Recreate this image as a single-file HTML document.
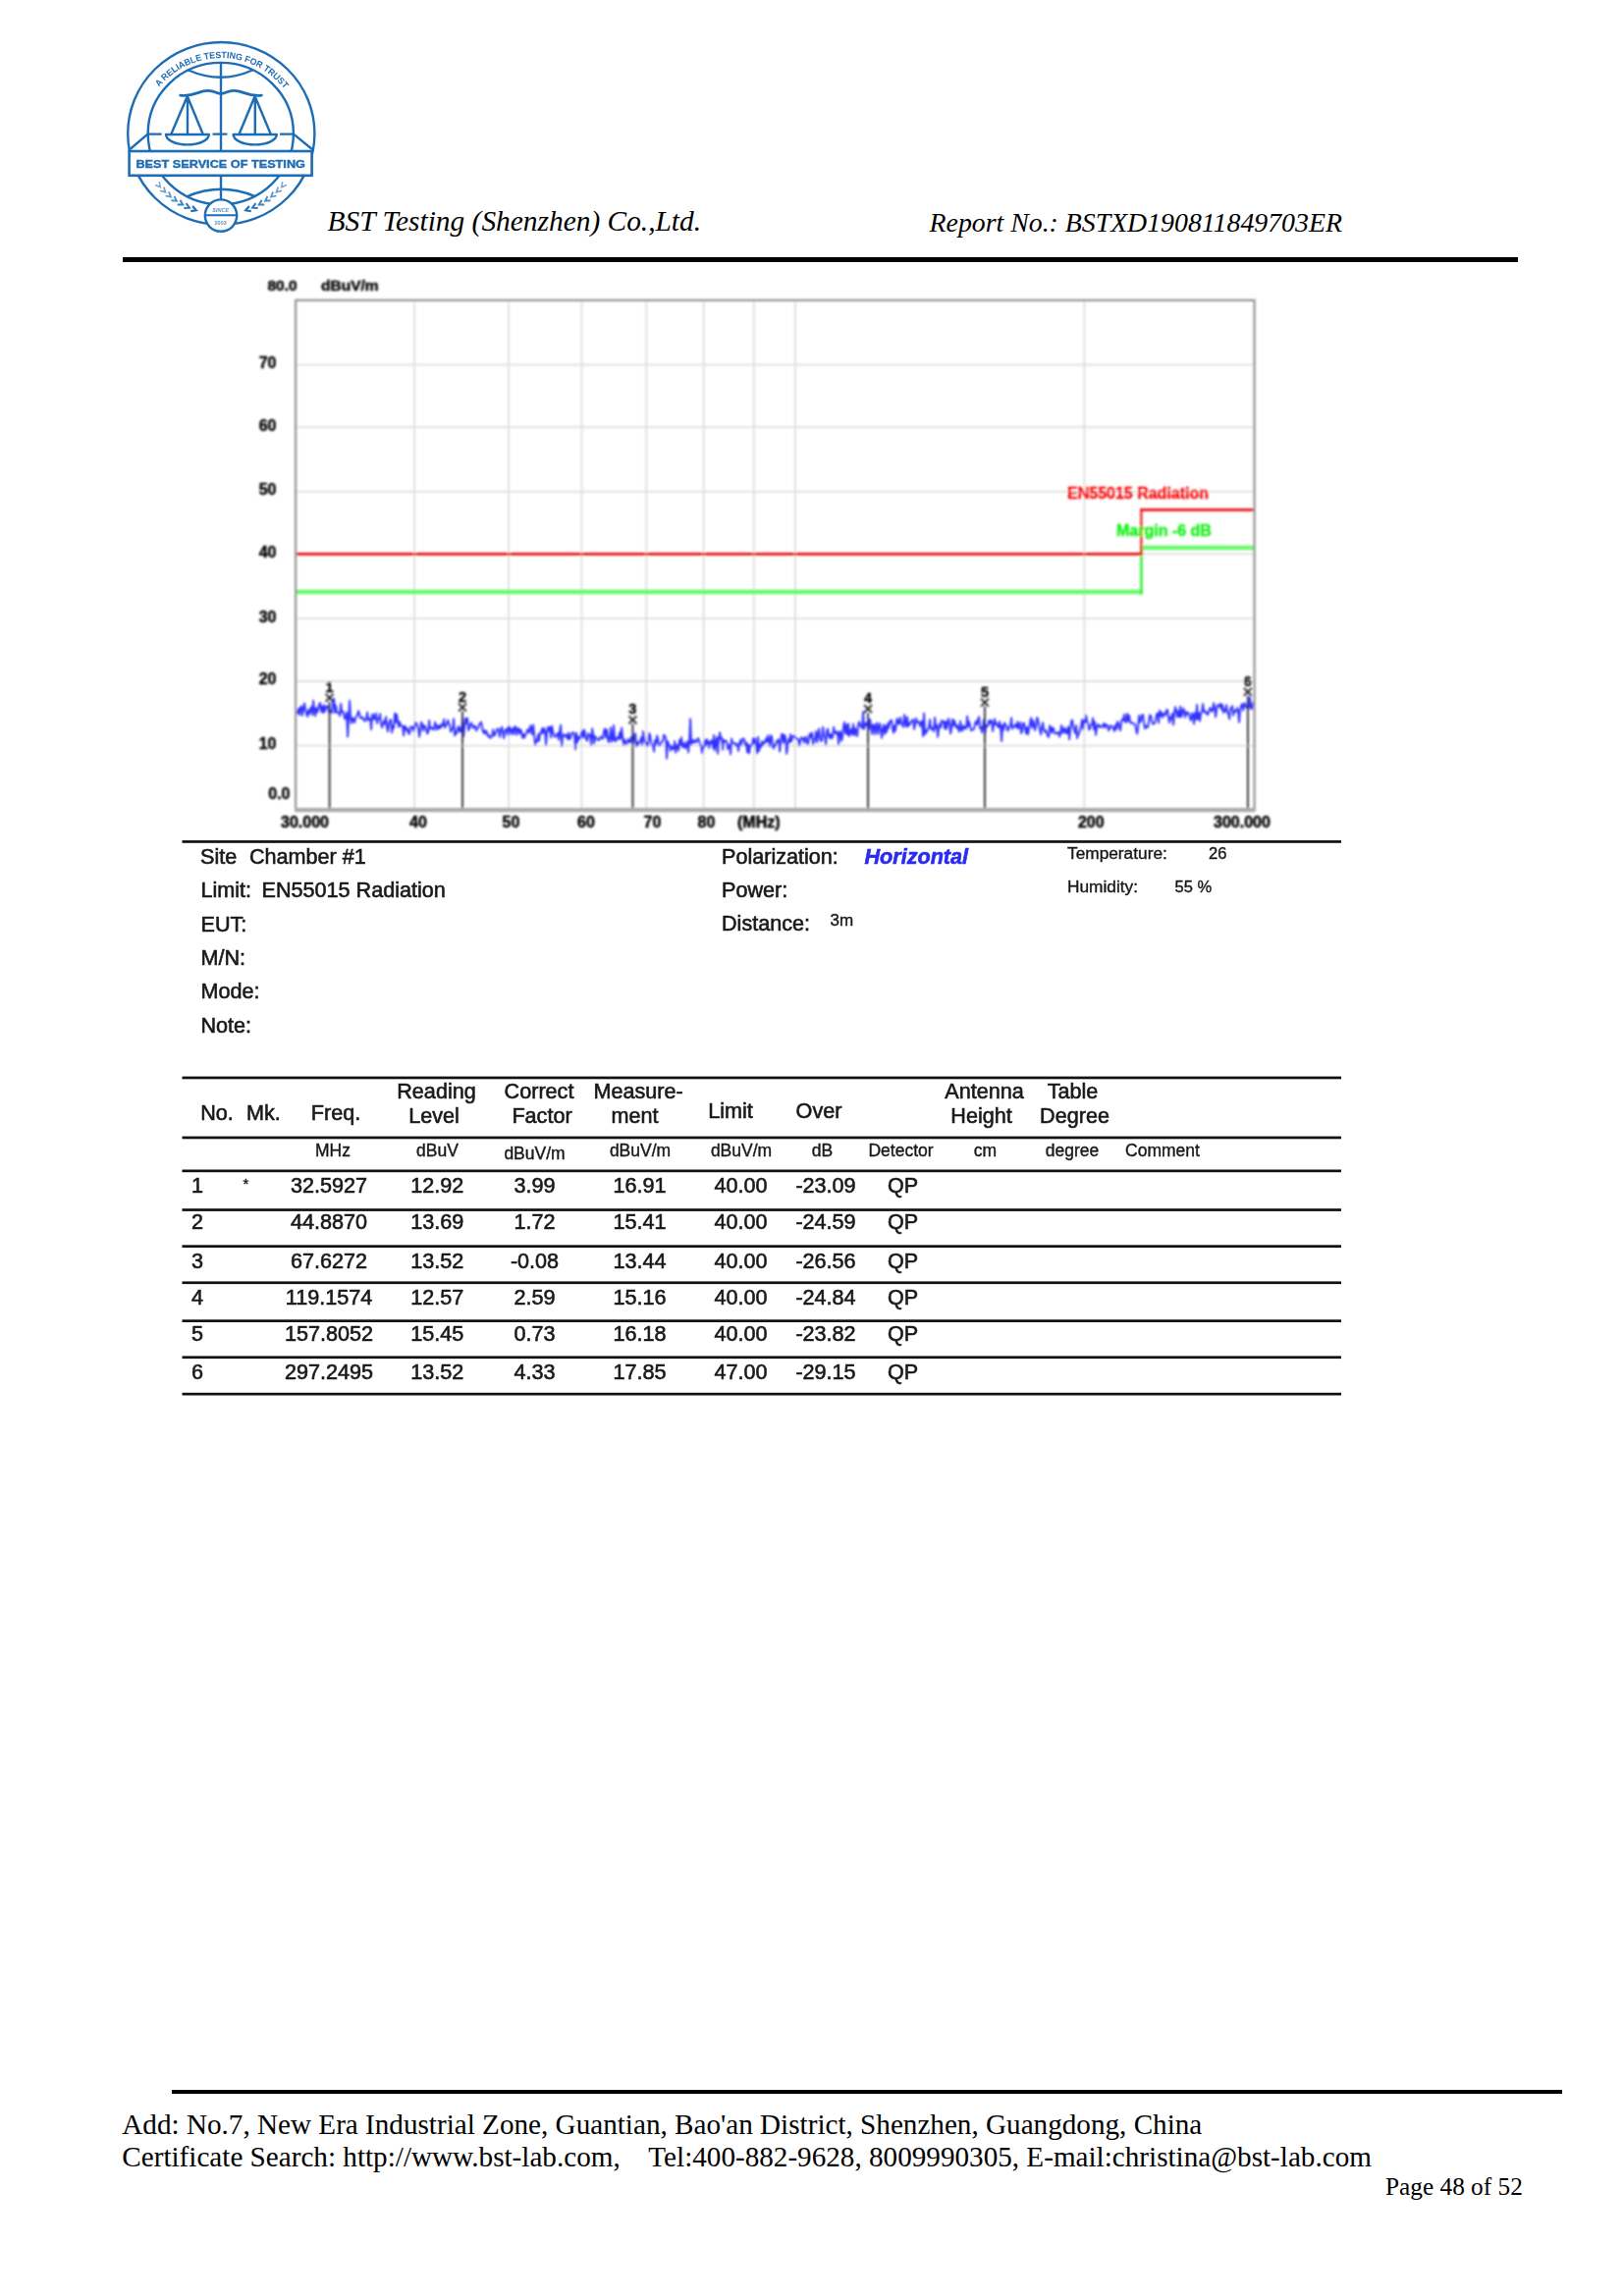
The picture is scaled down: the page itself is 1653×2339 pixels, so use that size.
<!DOCTYPE html>
<html><head><meta charset="utf-8"><title>Report page 48</title>
<style>
html,body{margin:0;padding:0;background:#fff;}
body{width:1653px;height:2339px;position:relative;overflow:hidden;font-family:"Liberation Sans",sans-serif;}
svg{position:absolute;left:0;top:0;}
svg text{font-family:"Liberation Sans",sans-serif;}
.serif{position:absolute;white-space:pre;font-family:"Liberation Serif",serif;color:#000;line-height:1;}
.hdr{font-style:italic;font-size:29.17px;}
.ftr{font-size:29.17px;}
.rule{position:absolute;background:#000;}
</style></head><body>
<svg width="1653" height="2339" viewBox="0 0 1653 2339">
<defs><filter id="b1" x="-2%" y="-2%" width="104%" height="104%"><feGaussianBlur stdDeviation="0.9"/></filter><filter id="b2" x="-2%" y="-2%" width="104%" height="104%"><feGaussianBlur stdDeviation="0.7"/></filter></defs>
<g id="logo" filter="url(#b2)">
<g fill="none" stroke="#1f6db5" stroke-width="2.4" stroke-linecap="round">
<ellipse cx="225.3" cy="136" rx="95.1" ry="93"/>
<ellipse cx="224.8" cy="136.1" rx="74.1" ry="72.2"/>
<path d="M225,64 V154 M225,179 V204"/>
<path d="M191.8,71.5 Q225,86 257,71.5"/>
<path d="M191.3,199.8 Q225,185.6 259.3,199.8"/>
<path d="M151,136.6 H164.6 M216.6,136.6 H231.4 M285,136.6 H298.5" stroke-linecap="butt"/>
<path d="M133,151.5 L150.5,136.6 M317.3,151.5 L299,136.6"/>
<path d="M183.7,97.1 C197,99 203,92 212,92.4 C219,92.6 221,95.5 225,95.3 C229,95.5 231,92.6 238,92.4 C247,92 253,99 266.4,97.1" stroke-width="2.8"/>
<path d="M190.8,98 L174.2,137 M190.8,98 L206.8,137 M191,100 V137"/>
<path d="M259.6,98 L243.4,137 M259.6,98 L275.9,137 M259.8,100 V137"/>
<path d="M169,137 H212.8 A21.9,10.4 0 0 1 169,137 Z" stroke-linejoin="round"/>
<path d="M237.6,137 H281.8 A22.1,10.4 0 0 1 237.6,137 Z" stroke-linejoin="round"/>
</g>
<rect x="131.6" y="154" width="186" height="24.8" fill="#fff" stroke="#1f6db5" stroke-width="2.6"/>
<text x="224.7" y="171" text-anchor="middle" font-size="10.5" font-weight="bold" fill="#1f6db5" stroke="#1f6db5" stroke-width="0.35" textLength="172.5" lengthAdjust="spacingAndGlyphs">BEST SERVICE OF TESTING</text>
<circle cx="225" cy="219.6" r="16.2" fill="#fff" stroke="#1f6db5" stroke-width="2.4"/>
<path d="M208.5,219.2 H241" stroke="#1f6db5" stroke-width="2"/>
<text x="224.7" y="216" text-anchor="middle" font-size="5.5" font-style="italic" font-weight="bold" fill="#1f6db5" opacity=".75">SINCE</text>
<text x="224.7" y="228.5" text-anchor="middle" font-size="5.5" font-weight="bold" fill="#1f6db5" opacity=".75">2003</text>
<path id="arcp" d="M162.04,88.70 A81.6,81.6 0 0 1 289.74,90.93" fill="none"/>
<text font-size="9.2" font-weight="bold" fill="#1f6db5"><textPath href="#arcp" textLength="146" lengthAdjust="spacingAndGlyphs">A RELIABLE TESTING FOR TRUST</textPath></text>
<path d="M255.7,215.1 L250.2,214.2 L253.9,210.0" fill="none" stroke="#1f6db5" stroke-width="2.10" stroke-linejoin="miter" opacity="1.00"/>
<path d="M262.7,212.1 L257.1,211.7 L260.4,207.2" fill="none" stroke="#1f6db5" stroke-width="2.02" stroke-linejoin="miter" opacity="0.93"/>
<path d="M269.3,208.5 L263.8,208.5 L266.6,203.8" fill="none" stroke="#1f6db5" stroke-width="1.94" stroke-linejoin="miter" opacity="0.86"/>
<path d="M275.6,204.3 L270.1,204.8 L272.5,199.8" fill="none" stroke="#1f6db5" stroke-width="1.86" stroke-linejoin="miter" opacity="0.79"/>
<path d="M281.5,199.5 L276.1,200.6 L278.1,195.4" fill="none" stroke="#1f6db5" stroke-width="1.78" stroke-linejoin="miter" opacity="0.72"/>
<path d="M287.0,194.3 L281.6,195.8 L283.1,190.5" fill="none" stroke="#1f6db5" stroke-width="1.70" stroke-linejoin="miter" opacity="0.65"/>
<path d="M291.9,188.6 L286.7,190.6 L287.8,185.1" fill="none" stroke="#1f6db5" stroke-width="1.62" stroke-linejoin="miter" opacity="0.58"/>
<path d="M194.3,215.1 L199.8,214.2 L196.1,210.0" fill="none" stroke="#1f6db5" stroke-width="2.10" stroke-linejoin="miter" opacity="1.00"/>
<path d="M187.3,212.1 L192.9,211.7 L189.6,207.2" fill="none" stroke="#1f6db5" stroke-width="2.02" stroke-linejoin="miter" opacity="0.93"/>
<path d="M180.7,208.5 L186.2,208.5 L183.4,203.8" fill="none" stroke="#1f6db5" stroke-width="1.94" stroke-linejoin="miter" opacity="0.86"/>
<path d="M174.4,204.3 L179.9,204.8 L177.5,199.8" fill="none" stroke="#1f6db5" stroke-width="1.86" stroke-linejoin="miter" opacity="0.79"/>
<path d="M168.5,199.5 L173.9,200.6 L171.9,195.4" fill="none" stroke="#1f6db5" stroke-width="1.78" stroke-linejoin="miter" opacity="0.72"/>
<path d="M163.0,194.3 L168.4,195.8 L166.9,190.5" fill="none" stroke="#1f6db5" stroke-width="1.70" stroke-linejoin="miter" opacity="0.65"/>
<path d="M158.1,188.6 L163.3,190.6 L162.2,185.1" fill="none" stroke="#1f6db5" stroke-width="1.62" stroke-linejoin="miter" opacity="0.58"/></g>
<g id="chart" filter="url(#b1)"><line x1="422.2" y1="305.9" x2="422.2" y2="824.5" stroke="#dedede" stroke-width="1.8"/>
<line x1="518.2" y1="305.9" x2="518.2" y2="824.5" stroke="#dedede" stroke-width="1.8"/>
<line x1="592.5" y1="305.9" x2="592.5" y2="824.5" stroke="#dedede" stroke-width="1.8"/>
<line x1="658.3" y1="305.9" x2="658.3" y2="824.5" stroke="#dedede" stroke-width="1.8"/>
<line x1="716.6" y1="305.9" x2="716.6" y2="824.5" stroke="#dedede" stroke-width="1.8"/>
<line x1="767.8" y1="305.9" x2="767.8" y2="824.5" stroke="#dedede" stroke-width="1.8"/>
<line x1="809.9" y1="305.9" x2="809.9" y2="824.5" stroke="#dedede" stroke-width="1.8"/>
<line x1="1104.4" y1="305.9" x2="1104.4" y2="824.5" stroke="#dedede" stroke-width="1.8"/>
<line x1="301.1" y1="371.6" x2="1277.6" y2="371.6" stroke="#dedede" stroke-width="1.8"/>
<line x1="301.1" y1="435.2" x2="1277.6" y2="435.2" stroke="#dedede" stroke-width="1.8"/>
<line x1="301.1" y1="500.9" x2="1277.6" y2="500.9" stroke="#dedede" stroke-width="1.8"/>
<line x1="301.1" y1="564.4" x2="1277.6" y2="564.4" stroke="#dedede" stroke-width="1.8"/>
<line x1="301.1" y1="630.1" x2="1277.6" y2="630.1" stroke="#dedede" stroke-width="1.8"/>
<line x1="301.1" y1="694.0" x2="1277.6" y2="694.0" stroke="#dedede" stroke-width="1.8"/>
<line x1="301.1" y1="759.7" x2="1277.6" y2="759.7" stroke="#dedede" stroke-width="1.8"/>
<path d="M301.1,603.0 H1163.6 M1163.6,558.0 H1277.6" fill="none" stroke="#66fa66" stroke-width="4.6"/>
<path d="M1162.4,605.5 V555.5" fill="none" stroke="#22f022" stroke-width="2.4"/>
<path d="M301.1,564.4 H1163.4 M1161.4,519.4 H1277.6" fill="none" stroke="#f01010" stroke-width="2.8"/>
<path d="M1162.4,565.9 V517.9" fill="none" stroke="#f01414" stroke-width="2.2"/>
<polyline fill="none" stroke="#3030ff" stroke-width="1.9" stroke-linejoin="round" points="302.1,725.2 303.1,726.5 304.1,721.9 305.1,728.3 306.1,720.5 307.1,719.4 308.1,728.8 309.1,721.9 310.1,716.5 311.1,723.3 312.1,726.4 313.1,730.1 314.1,723.1 315.1,727.2 316.1,722.1 317.1,720.2 318.1,728.4 319.1,713.8 320.1,723.1 321.1,729.4 322.1,721.2 323.1,725.6 324.1,722.3 325.1,717.8 326.1,715.9 327.1,724.8 328.1,719.6 329.1,726.4 330.1,718.5 331.1,724.7 332.1,719.7 333.1,720.1 334.1,719.3 335.1,725.7 336.1,723.8 337.1,724.6 338.1,726.1 339.1,715.1 340.1,711.6 341.1,726.0 342.1,718.8 343.1,725.8 344.1,725.9 345.1,725.9 346.1,729.3 347.1,716.9 348.1,725.6 349.1,724.6 350.1,727.3 351.1,732.4 352.1,731.0 353.1,725.6 354.1,750.5 355.1,731.5 356.1,713.8 357.1,732.3 358.1,736.9 359.1,731.1 360.1,732.8 361.1,736.0 362.1,731.5 363.1,730.0 364.1,727.7 365.1,724.2 366.1,727.5 367.1,731.5 368.1,730.7 369.1,732.0 370.1,731.2 371.1,734.5 372.1,734.3 373.1,732.7 374.1,725.7 375.1,733.6 376.1,732.1 377.1,732.0 378.1,743.1 379.1,727.9 380.1,727.6 381.1,732.8 382.1,732.6 383.1,726.7 384.1,737.0 385.1,732.6 386.1,732.1 387.1,727.3 388.1,737.1 389.1,741.2 390.1,737.5 391.1,734.2 392.1,737.6 393.1,730.1 394.1,741.6 395.1,745.2 396.1,737.6 397.1,734.3 398.1,732.9 399.1,746.3 400.1,739.0 401.1,741.8 402.1,726.6 403.1,735.8 404.1,727.6 405.1,735.3 406.1,740.7 407.1,735.3 408.1,739.4 409.1,739.4 410.1,739.4 411.1,749.3 412.1,739.6 413.1,740.3 414.1,744.4 415.1,742.2 416.1,747.4 417.1,747.6 418.1,740.5 419.1,740.8 420.1,740.5 421.1,744.8 422.1,741.3 423.1,736.1 424.1,736.7 425.1,739.5 426.1,742.4 427.1,750.6 428.1,744.0 429.1,735.7 430.1,737.8 431.1,744.4 432.1,738.9 433.1,740.6 434.1,742.8 435.1,747.3 436.1,746.4 437.1,733.9 438.1,742.6 439.1,741.2 440.1,741.1 441.1,743.2 442.1,743.4 443.1,735.8 444.1,738.3 445.1,743.2 446.1,739.4 447.1,742.2 448.1,738.8 449.1,741.3 450.1,737.7 451.1,739.1 452.1,732.8 453.1,741.4 454.1,739.4 455.1,737.3 456.1,733.6 457.1,737.2 458.1,739.4 459.1,745.6 460.1,743.1 461.1,742.7 462.1,732.3 463.1,749.4 464.1,745.3 465.1,747.2 466.1,741.5 467.1,739.9 468.1,745.6 469.1,741.8 470.1,745.1 471.1,731.1 472.1,750.2 473.1,740.7 474.1,731.7 475.1,737.1 476.1,731.6 477.1,744.0 478.1,742.1 479.1,738.1 480.1,736.3 481.1,739.7 482.1,741.7 483.1,739.4 484.1,739.7 485.1,744.4 486.1,742.3 487.1,741.7 488.1,737.8 489.1,737.1 490.1,735.6 491.1,741.1 492.1,746.3 493.1,744.3 494.1,747.7 495.1,744.5 496.1,746.6 497.1,750.3 498.1,748.7 499.1,751.7 500.1,751.1 501.1,750.7 502.1,743.3 503.1,749.0 504.1,749.1 505.1,745.2 506.1,743.4 507.1,742.2 508.1,745.7 509.1,750.7 510.1,742.6 511.1,740.7 512.1,745.1 513.1,752.2 514.1,745.7 515.1,743.0 516.1,742.8 517.1,748.8 518.1,739.9 519.1,741.4 520.1,748.2 521.1,743.1 522.1,742.3 523.1,748.1 524.1,740.3 525.1,740.3 526.1,748.6 527.1,742.4 528.1,741.9 529.1,747.6 530.1,743.1 531.1,744.8 532.1,751.6 533.1,747.9 534.1,751.7 535.1,748.0 536.1,747.5 537.1,743.1 538.1,744.4 539.1,746.5 540.1,739.1 541.1,742.2 542.1,748.1 543.1,738.4 544.1,748.9 545.1,758.7 546.1,754.1 547.1,755.4 548.1,748.1 549.1,754.7 550.1,746.4 551.1,747.0 552.1,742.3 553.1,746.9 554.1,741.8 555.1,744.8 556.1,758.9 557.1,746.0 558.1,740.7 559.1,744.9 560.1,740.6 561.1,751.3 562.1,739.7 563.1,744.7 564.1,749.0 565.1,750.7 566.1,750.1 567.1,748.2 568.1,746.7 569.1,753.7 570.1,744.9 571.1,738.7 572.1,760.1 573.1,750.4 574.1,748.1 575.1,749.8 576.1,750.4 577.1,748.5 578.1,752.9 579.1,746.5 580.1,753.4 581.1,751.4 582.1,747.4 583.1,746.3 584.1,746.3 585.1,748.8 586.1,763.2 587.1,746.7 588.1,756.3 589.1,750.5 590.1,753.0 591.1,752.1 592.1,747.8 593.1,744.3 594.1,751.8 595.1,743.5 596.1,748.8 597.1,753.1 598.1,754.8 599.1,747.2 600.1,749.2 601.1,748.7 602.1,758.9 603.1,742.3 604.1,748.0 605.1,757.6 606.1,749.9 607.1,752.3 608.1,752.5 609.1,753.8 610.1,754.1 611.1,751.3 612.1,750.6 613.1,752.4 614.1,752.5 615.1,744.6 616.1,742.5 617.1,751.1 618.1,743.1 619.1,753.4 620.1,756.4 621.1,751.0 622.1,741.2 623.1,755.6 624.1,753.1 625.1,738.9 626.1,754.3 627.1,755.4 628.1,751.8 629.1,751.0 630.1,753.0 631.1,746.1 632.1,752.7 633.1,741.5 634.1,750.5 635.1,758.7 636.1,753.1 637.1,756.8 638.1,758.3 639.1,755.4 640.1,752.8 641.1,756.6 642.1,756.0 643.1,750.7 644.1,752.6 645.1,757.7 646.1,748.8 647.1,747.3 648.1,760.3 649.1,755.7 650.1,758.6 651.1,756.8 652.1,754.7 653.1,751.3 654.1,758.9 655.1,745.0 656.1,751.8 657.1,756.1 658.1,756.5 659.1,759.9 660.1,759.0 661.1,746.9 662.1,749.0 663.1,756.0 664.1,759.3 665.1,759.9 666.1,765.7 667.1,754.1 668.1,758.8 669.1,749.5 670.1,752.4 671.1,759.2 672.1,759.2 673.1,758.2 674.1,755.7 675.1,754.8 676.1,748.7 677.1,749.8 678.1,751.8 679.1,772.6 680.1,755.3 681.1,758.4 682.1,759.7 683.1,764.8 684.1,760.0 685.1,762.7 686.1,763.1 687.1,755.1 688.1,766.6 689.1,759.1 690.1,759.2 691.1,764.7 692.1,753.6 693.1,759.2 694.1,751.3 695.1,761.1 696.1,760.9 697.1,756.6 698.1,762.3 699.1,759.8 700.1,755.3 701.1,766.5 702.1,756.1 703.1,732.2 704.1,758.5 705.1,754.4 706.1,756.8 707.1,753.7 708.1,755.9 709.1,756.5 710.1,753.3 711.1,752.0 712.1,754.7 713.1,758.8 714.1,759.5 715.1,767.2 716.1,761.3 717.1,761.3 718.1,753.7 719.1,759.1 720.1,753.3 721.1,756.1 722.1,762.1 723.1,755.4 724.1,757.6 725.1,754.1 726.1,762.0 727.1,748.9 728.1,764.5 729.1,756.4 730.1,751.2 731.1,767.7 732.1,752.6 733.1,746.1 734.1,753.1 735.1,751.5 736.1,763.7 737.1,753.8 738.1,755.7 739.1,754.5 740.1,755.4 741.1,763.1 742.1,758.7 743.1,759.1 744.1,768.3 745.1,752.4 746.1,757.4 747.1,757.1 748.1,757.0 749.1,759.4 750.1,757.6 751.1,758.5 752.1,765.1 753.1,758.0 754.1,754.0 755.1,758.9 756.1,752.6 757.1,752.4 758.1,753.3 759.1,759.5 760.1,756.5 761.1,766.4 762.1,758.2 763.1,767.3 764.1,759.6 765.1,759.7 766.1,759.2 767.1,752.0 768.1,757.4 769.1,752.3 770.1,760.4 771.1,767.5 772.1,750.8 773.1,765.1 774.1,758.6 775.1,761.1 776.1,755.3 777.1,759.1 778.1,755.9 779.1,756.7 780.1,752.5 781.1,755.8 782.1,749.3 783.1,755.1 784.1,760.2 785.1,749.1 786.1,750.5 787.1,761.3 788.1,762.5 789.1,758.5 790.1,759.3 791.1,754.8 792.1,755.4 793.1,753.1 794.1,765.6 795.1,758.9 796.1,747.8 797.1,748.4 798.1,756.8 799.1,748.6 800.1,751.7 801.1,767.9 802.1,761.0 803.1,753.1 804.1,755.9 805.1,748.2 806.1,755.6 807.1,751.5 808.1,749.4 809.1,749.6 810.1,751.7 811.1,752.7 812.1,753.2 813.1,752.9 814.1,759.5 815.1,755.8 816.1,751.1 817.1,752.7 818.1,751.9 819.1,756.7 820.1,751.9 821.1,750.6 822.1,757.7 823.1,758.1 824.1,750.3 825.1,747.3 826.1,751.6 827.1,746.5 828.1,758.3 829.1,754.9 830.1,753.0 831.1,745.0 832.1,756.5 833.1,748.6 834.1,742.4 835.1,751.3 836.1,755.2 837.1,754.0 838.1,740.6 839.1,748.8 840.1,750.8 841.1,758.6 842.1,744.6 843.1,742.4 844.1,750.1 845.1,751.9 846.1,747.6 847.1,752.3 848.1,750.9 849.1,740.7 850.1,746.8 851.1,745.6 852.1,747.7 853.1,745.3 854.1,758.4 855.1,746.5 856.1,745.1 857.1,754.6 858.1,750.5 859.1,740.0 860.1,735.6 861.1,747.1 862.1,738.7 863.1,748.5 864.1,737.3 865.1,750.0 866.1,746.3 867.1,742.6 868.1,748.2 869.1,737.5 870.1,749.1 871.1,742.0 872.1,745.6 873.1,750.0 874.1,738.0 875.1,735.3 876.1,738.7 877.1,740.5 878.1,741.8 879.1,725.1 880.1,742.9 881.1,737.8 882.1,736.6 883.1,739.5 884.1,735.4 885.1,743.0 886.1,732.7 887.1,739.7 888.1,747.8 889.1,738.7 890.1,738.1 891.1,748.0 892.1,740.4 893.1,736.5 894.1,747.7 895.1,740.6 896.1,736.9 897.1,745.7 898.1,751.7 899.1,742.0 900.1,738.3 901.1,748.0 902.1,739.8 903.1,745.7 904.1,737.0 905.1,741.8 906.1,734.8 907.1,735.5 908.1,733.5 909.1,742.4 910.1,746.7 911.1,739.0 912.1,744.4 913.1,733.8 914.1,732.1 915.1,737.9 916.1,736.3 917.1,730.9 918.1,737.8 919.1,737.9 920.1,740.8 921.1,728.1 922.1,735.5 923.1,740.2 924.1,730.4 925.1,740.0 926.1,736.9 927.1,737.6 928.1,734.6 929.1,734.3 930.1,732.8 931.1,742.9 932.1,738.3 933.1,731.8 934.1,735.8 935.1,736.0 936.1,735.2 937.1,739.9 938.1,736.8 939.1,734.4 940.1,750.1 941.1,726.6 942.1,748.1 943.1,744.3 944.1,745.7 945.1,742.1 946.1,740.4 947.1,732.9 948.1,743.1 949.1,741.2 950.1,742.3 951.1,745.1 952.1,731.0 953.1,741.7 954.1,738.7 955.1,750.7 956.1,742.6 957.1,737.2 958.1,741.0 959.1,734.0 960.1,734.3 961.1,735.8 962.1,742.4 963.1,734.6 964.1,742.7 965.1,737.0 966.1,731.9 967.1,736.3 968.1,747.3 969.1,742.6 970.1,732.8 971.1,739.4 972.1,734.0 973.1,739.0 974.1,741.4 975.1,738.7 976.1,743.0 977.1,745.4 978.1,734.6 979.1,742.6 980.1,744.5 981.1,739.2 982.1,742.1 983.1,740.4 984.1,742.4 985.1,729.6 986.1,740.0 987.1,735.1 988.1,739.7 989.1,744.4 990.1,743.5 991.1,743.0 992.1,742.6 993.1,737.1 994.1,734.7 995.1,738.2 996.1,733.4 997.1,730.1 998.1,741.8 999.1,740.8 1000.1,746.4 1001.1,739.6 1002.1,733.0 1003.1,748.5 1004.1,740.4 1005.1,738.9 1006.1,739.8 1007.1,734.1 1008.1,737.2 1009.1,733.7 1010.1,734.5 1011.1,744.8 1012.1,737.8 1013.1,732.4 1014.1,738.2 1015.1,736.7 1016.1,739.8 1017.1,741.3 1018.1,735.0 1019.1,740.1 1020.1,755.0 1021.1,738.6 1022.1,743.9 1023.1,736.3 1024.1,738.3 1025.1,739.4 1026.1,744.3 1027.1,743.5 1028.1,739.6 1029.1,739.5 1030.1,731.3 1031.1,742.6 1032.1,740.8 1033.1,739.9 1034.1,738.3 1035.1,741.0 1036.1,735.3 1037.1,742.6 1038.1,738.7 1039.1,735.9 1040.1,747.0 1041.1,744.8 1042.1,736.8 1043.1,736.7 1044.1,742.5 1045.1,747.3 1046.1,741.0 1047.1,748.2 1048.1,741.5 1049.1,736.3 1050.1,731.3 1051.1,741.4 1052.1,733.9 1053.1,737.5 1054.1,744.0 1055.1,739.5 1056.1,731.0 1057.1,733.0 1058.1,739.1 1059.1,743.9 1060.1,748.3 1061.1,740.8 1062.1,736.1 1063.1,743.6 1064.1,745.7 1065.1,743.9 1066.1,746.7 1067.1,749.8 1068.1,750.9 1069.1,739.1 1070.1,741.0 1071.1,746.9 1072.1,741.5 1073.1,742.0 1074.1,746.9 1075.1,747.3 1076.1,747.6 1077.1,746.0 1078.1,745.9 1079.1,750.5 1080.1,746.7 1081.1,738.9 1082.1,746.8 1083.1,743.6 1084.1,741.4 1085.1,747.0 1086.1,743.2 1087.1,747.0 1088.1,740.2 1089.1,753.2 1090.1,743.3 1091.1,735.1 1092.1,733.4 1093.1,740.9 1094.1,743.5 1095.1,746.9 1096.1,738.9 1097.1,752.1 1098.1,748.1 1099.1,747.3 1100.1,742.8 1101.1,739.4 1102.1,733.1 1103.1,743.0 1104.1,733.8 1105.1,735.8 1106.1,728.7 1107.1,735.0 1108.1,736.7 1109.1,743.3 1110.1,742.4 1111.1,738.5 1112.1,737.7 1113.1,731.5 1114.1,743.2 1115.1,735.4 1116.1,748.7 1117.1,741.4 1118.1,737.9 1119.1,740.2 1120.1,739.1 1121.1,741.1 1122.1,740.4 1123.1,739.3 1124.1,736.9 1125.1,741.3 1126.1,737.6 1127.1,739.7 1128.1,739.1 1129.1,744.3 1130.1,742.6 1131.1,739.1 1132.1,740.1 1133.1,740.1 1134.1,742.6 1135.1,744.8 1136.1,738.4 1137.1,742.9 1138.1,735.1 1139.1,736.2 1140.1,741.6 1141.1,744.2 1142.1,735.2 1143.1,732.6 1144.1,733.8 1145.1,727.6 1146.1,735.5 1147.1,736.0 1148.1,727.0 1149.1,734.3 1150.1,728.9 1151.1,736.1 1152.1,736.7 1153.1,736.1 1154.1,737.1 1155.1,737.5 1156.1,737.8 1157.1,743.4 1158.1,747.6 1159.1,741.2 1160.1,728.9 1161.1,735.8 1162.1,733.8 1163.1,728.3 1164.1,728.2 1165.1,736.6 1166.1,742.3 1167.1,739.4 1168.1,741.1 1169.1,740.7 1170.1,734.7 1171.1,728.5 1172.1,729.0 1173.1,734.8 1174.1,737.5 1175.1,737.3 1176.1,736.7 1177.1,732.6 1178.1,727.2 1179.1,726.9 1180.1,736.5 1181.1,723.8 1182.1,729.2 1183.1,725.6 1184.1,730.7 1185.1,727.7 1186.1,726.6 1187.1,728.6 1188.1,723.2 1189.1,723.2 1190.1,730.9 1191.1,736.2 1192.1,730.4 1193.1,732.2 1194.1,726.9 1195.1,738.4 1196.1,725.7 1197.1,720.1 1198.1,724.8 1199.1,730.4 1200.1,724.3 1201.1,730.3 1202.1,719.6 1203.1,730.6 1204.1,727.0 1205.1,721.7 1206.1,724.2 1207.1,730.8 1208.1,725.3 1209.1,727.6 1210.1,725.9 1211.1,727.9 1212.1,732.3 1213.1,733.9 1214.1,726.4 1215.1,728.3 1216.1,737.5 1217.1,726.2 1218.1,732.7 1219.1,717.9 1220.1,732.9 1221.1,726.2 1222.1,734.5 1223.1,726.7 1224.1,725.2 1225.1,717.0 1226.1,725.0 1227.1,724.2 1228.1,726.5 1229.1,725.8 1230.1,728.3 1231.1,724.7 1232.1,721.5 1233.1,721.5 1234.1,725.0 1235.1,723.4 1236.1,716.3 1237.1,720.8 1238.1,730.4 1239.1,723.2 1240.1,718.2 1241.1,718.4 1242.1,719.9 1243.1,716.8 1244.1,722.8 1245.1,718.0 1246.1,726.1 1247.1,723.1 1248.1,724.5 1249.1,718.1 1250.1,726.1 1251.1,726.7 1252.1,732.5 1253.1,722.0 1254.1,721.4 1255.1,719.2 1256.1,728.7 1257.1,723.7 1258.1,724.8 1259.1,724.6 1260.1,721.1 1261.1,725.8 1262.1,735.8 1263.1,722.1 1264.1,719.3 1265.1,716.9 1266.1,723.8 1267.1,717.9 1268.1,716.2 1269.1,720.6 1270.1,720.2 1271.1,722.1 1272.1,719.5 1273.1,710.8 1274.1,721.6 1275.1,722.3 1276.1,715.4"/>
<line x1="335.6" y1="714.9" x2="335.6" y2="824.5" stroke="#2c2c2c" stroke-width="1.8"/>
<path d="M331.6,706.9 L339.6,714.9 M339.6,706.9 L331.6,714.9" stroke="#222" stroke-width="1.9" fill="none"/>
<text x="335.6" y="704.9" text-anchor="middle" font-size="14.5" font-weight="bold" fill="#000" stroke="#000" stroke-width="0.4">1</text>
<line x1="471.0" y1="724.6" x2="471.0" y2="824.5" stroke="#2c2c2c" stroke-width="1.8"/>
<path d="M467.0,716.6 L475.0,724.6 M475.0,716.6 L467.0,724.6" stroke="#222" stroke-width="1.9" fill="none"/>
<text x="471.0" y="714.6" text-anchor="middle" font-size="14.5" font-weight="bold" fill="#000" stroke="#000" stroke-width="0.4">2</text>
<line x1="644.4" y1="737.4" x2="644.4" y2="824.5" stroke="#2c2c2c" stroke-width="1.8"/>
<path d="M640.4,729.4 L648.4,737.4 M648.4,729.4 L640.4,737.4" stroke="#222" stroke-width="1.9" fill="none"/>
<text x="644.4" y="727.4" text-anchor="middle" font-size="14.5" font-weight="bold" fill="#000" stroke="#000" stroke-width="0.4">3</text>
<line x1="884.1" y1="726.2" x2="884.1" y2="824.5" stroke="#2c2c2c" stroke-width="1.8"/>
<path d="M880.1,718.2 L888.1,726.2 M888.1,718.2 L880.1,726.2" stroke="#222" stroke-width="1.9" fill="none"/>
<text x="884.1" y="716.2" text-anchor="middle" font-size="14.5" font-weight="bold" fill="#000" stroke="#000" stroke-width="0.4">4</text>
<line x1="1003.0" y1="719.6" x2="1003.0" y2="824.5" stroke="#2c2c2c" stroke-width="1.8"/>
<path d="M999.0,711.6 L1007.0,719.6 M1007.0,711.6 L999.0,719.6" stroke="#222" stroke-width="1.9" fill="none"/>
<text x="1003.0" y="709.6" text-anchor="middle" font-size="14.5" font-weight="bold" fill="#000" stroke="#000" stroke-width="0.4">5</text>
<line x1="1270.9" y1="708.8" x2="1270.9" y2="824.5" stroke="#2c2c2c" stroke-width="1.8"/>
<path d="M1266.9,700.8 L1274.9,708.8 M1274.9,700.8 L1266.9,708.8" stroke="#222" stroke-width="1.9" fill="none"/>
<text x="1270.9" y="698.8" text-anchor="middle" font-size="14.5" font-weight="bold" fill="#000" stroke="#000" stroke-width="0.4">6</text>
<rect x="301.1" y="305.9" width="976.4999999999999" height="518.6" fill="none" stroke="#939393" stroke-width="2.2"/>
<line x1="300.1" y1="825.3" x2="1278.6" y2="825.3" stroke="#a8a8a8" stroke-width="4"/>
<text x="272.5" y="296.3" text-anchor="start" font-size="15.5" font-weight="bold" fill="#000" stroke="#000" stroke-width="0.45" >80.0</text>
<text x="327" y="296.3" text-anchor="start" font-size="15.5" font-weight="bold" fill="#000" stroke="#000" stroke-width="0.45" >dBuV/m</text>
<text x="281.5" y="375.0" text-anchor="end" font-size="16" font-weight="bold" fill="#000" stroke="#000" stroke-width="0.45" >70</text>
<text x="281.5" y="438.59999999999997" text-anchor="end" font-size="16" font-weight="bold" fill="#000" stroke="#000" stroke-width="0.45" >60</text>
<text x="281.5" y="504.29999999999995" text-anchor="end" font-size="16" font-weight="bold" fill="#000" stroke="#000" stroke-width="0.45" >50</text>
<text x="281.5" y="567.8" text-anchor="end" font-size="16" font-weight="bold" fill="#000" stroke="#000" stroke-width="0.45" >40</text>
<text x="281.5" y="633.5" text-anchor="end" font-size="16" font-weight="bold" fill="#000" stroke="#000" stroke-width="0.45" >30</text>
<text x="281.5" y="697.4" text-anchor="end" font-size="16" font-weight="bold" fill="#000" stroke="#000" stroke-width="0.45" >20</text>
<text x="281.5" y="763.1" text-anchor="end" font-size="16" font-weight="bold" fill="#000" stroke="#000" stroke-width="0.45" >10</text>
<text x="295.5" y="813.5" text-anchor="end" font-size="16" font-weight="bold" fill="#000" stroke="#000" stroke-width="0.45" >0.0</text>
<text x="286" y="843" text-anchor="start" font-size="16" font-weight="bold" fill="#000" stroke="#000" stroke-width="0.45" >30.000</text>
<text x="426" y="843" text-anchor="middle" font-size="16" font-weight="bold" fill="#000" stroke="#000" stroke-width="0.45" >40</text>
<text x="520.5" y="843" text-anchor="middle" font-size="16" font-weight="bold" fill="#000" stroke="#000" stroke-width="0.45" >50</text>
<text x="597" y="843" text-anchor="middle" font-size="16" font-weight="bold" fill="#000" stroke="#000" stroke-width="0.45" >60</text>
<text x="664.5" y="843" text-anchor="middle" font-size="16" font-weight="bold" fill="#000" stroke="#000" stroke-width="0.45" >70</text>
<text x="719.5" y="843" text-anchor="middle" font-size="16" font-weight="bold" fill="#000" stroke="#000" stroke-width="0.45" >80</text>
<text x="751" y="843" text-anchor="start" font-size="16" font-weight="bold" fill="#000" stroke="#000" stroke-width="0.45" >(MHz)</text>
<text x="1111.23428630205" y="843" text-anchor="middle" font-size="16" font-weight="bold" fill="#000" stroke="#000" stroke-width="0.45" >200</text>
<text x="1236" y="843" text-anchor="start" font-size="16" font-weight="bold" fill="#000" stroke="#000" stroke-width="0.45" >300.000</text>
<text x="1087" y="508" text-anchor="start" font-size="16" font-weight="bold" fill="#f80808" stroke="#f80808" stroke-width="0.45" >EN55015 Radiation</text>
<text x="1137" y="546" text-anchor="start" font-size="16" font-weight="bold" fill="#14f014" stroke="#14f014" stroke-width="0.45" >Margin -6 dB</text></g>
<g id="lines"><rect x="185.5" y="1096.6" width="1180.5" height="2.7" fill="#111"/><rect x="185.5" y="1157.6" width="1180.5" height="2.7" fill="#111"/><rect x="185.5" y="1191.5" width="1180.5" height="2.7" fill="#111"/><rect x="185.5" y="1231.2" width="1180.5" height="2.7" fill="#111"/><rect x="185.5" y="1268.3" width="1180.5" height="2.7" fill="#111"/><rect x="185.5" y="1305.4" width="1180.5" height="2.7" fill="#111"/><rect x="185.5" y="1344.3" width="1180.5" height="2.7" fill="#111"/><rect x="185.5" y="1381.4" width="1180.5" height="2.7" fill="#111"/><rect x="185.5" y="1418.8" width="1180.5" height="2.7" fill="#111"/><rect x="185.5" y="856.1" width="1180.5" height="2.7" fill="#111"/></g>
<g id="txt" filter="url(#b2)"><text x="204" y="880" font-size="21.6" text-anchor="start" fill="#1a1a1a" stroke="#1a1a1a" stroke-width="0.6" >Site</text><text x="254" y="880" font-size="21.6" text-anchor="start" fill="#1a1a1a" stroke="#1a1a1a" stroke-width="0.6" >Chamber #1</text><text x="204.5" y="914.3" font-size="21.6" text-anchor="start" fill="#1a1a1a" stroke="#1a1a1a" stroke-width="0.6" >Limit:</text><text x="266.5" y="914.3" font-size="21.6" text-anchor="start" fill="#1a1a1a" stroke="#1a1a1a" stroke-width="0.6" >EN55015 Radiation</text><text x="204.5" y="948.6" font-size="21.6" text-anchor="start" fill="#1a1a1a" stroke="#1a1a1a" stroke-width="0.6" >EUT:</text><text x="204.5" y="982.9" font-size="21.6" text-anchor="start" fill="#1a1a1a" stroke="#1a1a1a" stroke-width="0.6" >M/N:</text><text x="204.5" y="1017.2" font-size="21.6" text-anchor="start" fill="#1a1a1a" stroke="#1a1a1a" stroke-width="0.6" >Mode:</text><text x="204.5" y="1051.5" font-size="21.6" text-anchor="start" fill="#1a1a1a" stroke="#1a1a1a" stroke-width="0.6" >Note:</text><text x="735" y="880" font-size="21.6" text-anchor="start" fill="#1a1a1a" stroke="#1a1a1a" stroke-width="0.6" >Polarization:</text><text x="880.5" y="880" font-size="21.6" text-anchor="start" fill="#2a2af0" stroke="#2a2af0" stroke-width="0.6" font-weight="bold" font-style="italic">Horizontal</text><text x="735" y="913.5" font-size="21.6" text-anchor="start" fill="#1a1a1a" stroke="#1a1a1a" stroke-width="0.6" >Power:</text><text x="735" y="948" font-size="21.6" text-anchor="start" fill="#1a1a1a" stroke="#1a1a1a" stroke-width="0.6" >Distance:</text><text x="845.5" y="943" font-size="17" text-anchor="start" fill="#1a1a1a" stroke="#1a1a1a" stroke-width="0.4" >3m</text><text x="1087" y="874.5" font-size="17.3" text-anchor="start" fill="#1a1a1a" stroke="#1a1a1a" stroke-width="0.4" >Temperature:</text><text x="1231" y="874.5" font-size="16.5" text-anchor="start" fill="#1a1a1a" stroke="#1a1a1a" stroke-width="0.4" >26</text><text x="1087" y="908.5" font-size="17.3" text-anchor="start" fill="#1a1a1a" stroke="#1a1a1a" stroke-width="0.4" >Humidity:</text><text x="1196.5" y="908.5" font-size="16.5" text-anchor="start" fill="#1a1a1a" stroke="#1a1a1a" stroke-width="0.4" >55 %</text><text x="204.2" y="1140.7" font-size="21.6" text-anchor="start" fill="#1a1a1a" stroke="#1a1a1a" stroke-width="0.6" >No.</text><text x="251" y="1140.7" font-size="21.6" text-anchor="start" fill="#1a1a1a" stroke="#1a1a1a" stroke-width="0.6" >Mk.</text><text x="342" y="1140.9" font-size="21.6" text-anchor="middle" fill="#1a1a1a" stroke="#1a1a1a" stroke-width="0.6" >Freq.</text><text x="444.5" y="1119.4" font-size="21.6" text-anchor="middle" fill="#1a1a1a" stroke="#1a1a1a" stroke-width="0.6" >Reading</text><text x="442" y="1143.8" font-size="21.6" text-anchor="middle" fill="#1a1a1a" stroke="#1a1a1a" stroke-width="0.6" >Level</text><text x="549" y="1119.4" font-size="21.6" text-anchor="middle" fill="#1a1a1a" stroke="#1a1a1a" stroke-width="0.6" >Correct</text><text x="552" y="1143.8" font-size="21.6" text-anchor="middle" fill="#1a1a1a" stroke="#1a1a1a" stroke-width="0.6" >Factor</text><text x="650" y="1119.4" font-size="21.6" text-anchor="middle" fill="#1a1a1a" stroke="#1a1a1a" stroke-width="0.6" >Measure-</text><text x="646.5" y="1143.8" font-size="21.6" text-anchor="middle" fill="#1a1a1a" stroke="#1a1a1a" stroke-width="0.6" >ment</text><text x="744" y="1138.5" font-size="21.6" text-anchor="middle" fill="#1a1a1a" stroke="#1a1a1a" stroke-width="0.6" >Limit</text><text x="834" y="1138.5" font-size="21.6" text-anchor="middle" fill="#1a1a1a" stroke="#1a1a1a" stroke-width="0.6" >Over</text><text x="1002.5" y="1119.4" font-size="21.6" text-anchor="middle" fill="#1a1a1a" stroke="#1a1a1a" stroke-width="0.6" >Antenna</text><text x="999.5" y="1143.8" font-size="21.6" text-anchor="middle" fill="#1a1a1a" stroke="#1a1a1a" stroke-width="0.6" >Height</text><text x="1092.5" y="1119.4" font-size="21.6" text-anchor="middle" fill="#1a1a1a" stroke="#1a1a1a" stroke-width="0.6" >Table</text><text x="1094.5" y="1143.8" font-size="21.6" text-anchor="middle" fill="#1a1a1a" stroke="#1a1a1a" stroke-width="0.6" >Degree</text><text x="339" y="1178.3" font-size="17.5" text-anchor="middle" fill="#1a1a1a" stroke="#1a1a1a" stroke-width="0.4" >MHz</text><text x="445.5" y="1178.3" font-size="17.5" text-anchor="middle" fill="#1a1a1a" stroke="#1a1a1a" stroke-width="0.4" >dBuV</text><text x="544.5" y="1181" font-size="17.5" text-anchor="middle" fill="#1a1a1a" stroke="#1a1a1a" stroke-width="0.4" >dBuV/m</text><text x="652" y="1178.3" font-size="17.5" text-anchor="middle" fill="#1a1a1a" stroke="#1a1a1a" stroke-width="0.4" >dBuV/m</text><text x="755" y="1178.3" font-size="17.5" text-anchor="middle" fill="#1a1a1a" stroke="#1a1a1a" stroke-width="0.4" >dBuV/m</text><text x="837.5" y="1178.3" font-size="17.5" text-anchor="middle" fill="#1a1a1a" stroke="#1a1a1a" stroke-width="0.4" >dB</text><text x="917.5" y="1178.3" font-size="17.5" text-anchor="middle" fill="#1a1a1a" stroke="#1a1a1a" stroke-width="0.4" >Detector</text><text x="1003.5" y="1178.3" font-size="17.5" text-anchor="middle" fill="#1a1a1a" stroke="#1a1a1a" stroke-width="0.4" >cm</text><text x="1092" y="1178.3" font-size="17.5" text-anchor="middle" fill="#1a1a1a" stroke="#1a1a1a" stroke-width="0.4" >degree</text><text x="1184" y="1178.3" font-size="17.5" text-anchor="middle" fill="#1a1a1a" stroke="#1a1a1a" stroke-width="0.4" >Comment</text><text x="195" y="1215.4" font-size="21.6" text-anchor="start" fill="#1a1a1a" stroke="#1a1a1a" stroke-width="0.6" >1</text><text x="247.5" y="1211.4" font-size="15" text-anchor="start" fill="#1a1a1a" stroke="#1a1a1a" stroke-width="0.4" >*</text><text x="335" y="1215.4" font-size="21.6" text-anchor="middle" fill="#1a1a1a" stroke="#1a1a1a" stroke-width="0.6" >32.5927</text><text x="445.3" y="1215.4" font-size="21.6" text-anchor="middle" fill="#1a1a1a" stroke="#1a1a1a" stroke-width="0.6" >12.92</text><text x="544.5" y="1215.4" font-size="21.6" text-anchor="middle" fill="#1a1a1a" stroke="#1a1a1a" stroke-width="0.6" >3.99</text><text x="651.5" y="1215.4" font-size="21.6" text-anchor="middle" fill="#1a1a1a" stroke="#1a1a1a" stroke-width="0.6" >16.91</text><text x="754.5" y="1215.4" font-size="21.6" text-anchor="middle" fill="#1a1a1a" stroke="#1a1a1a" stroke-width="0.6" >40.00</text><text x="841" y="1215.4" font-size="21.6" text-anchor="middle" fill="#1a1a1a" stroke="#1a1a1a" stroke-width="0.6" >-23.09</text><text x="919.5" y="1215.4" font-size="21.6" text-anchor="middle" fill="#1a1a1a" stroke="#1a1a1a" stroke-width="0.6" >QP</text><text x="195" y="1252.2" font-size="21.6" text-anchor="start" fill="#1a1a1a" stroke="#1a1a1a" stroke-width="0.6" >2</text><text x="335" y="1252.2" font-size="21.6" text-anchor="middle" fill="#1a1a1a" stroke="#1a1a1a" stroke-width="0.6" >44.8870</text><text x="445.3" y="1252.2" font-size="21.6" text-anchor="middle" fill="#1a1a1a" stroke="#1a1a1a" stroke-width="0.6" >13.69</text><text x="544.5" y="1252.2" font-size="21.6" text-anchor="middle" fill="#1a1a1a" stroke="#1a1a1a" stroke-width="0.6" >1.72</text><text x="651.5" y="1252.2" font-size="21.6" text-anchor="middle" fill="#1a1a1a" stroke="#1a1a1a" stroke-width="0.6" >15.41</text><text x="754.5" y="1252.2" font-size="21.6" text-anchor="middle" fill="#1a1a1a" stroke="#1a1a1a" stroke-width="0.6" >40.00</text><text x="841" y="1252.2" font-size="21.6" text-anchor="middle" fill="#1a1a1a" stroke="#1a1a1a" stroke-width="0.6" >-24.59</text><text x="919.5" y="1252.2" font-size="21.6" text-anchor="middle" fill="#1a1a1a" stroke="#1a1a1a" stroke-width="0.6" >QP</text><text x="195" y="1291.7" font-size="21.6" text-anchor="start" fill="#1a1a1a" stroke="#1a1a1a" stroke-width="0.6" >3</text><text x="335" y="1291.7" font-size="21.6" text-anchor="middle" fill="#1a1a1a" stroke="#1a1a1a" stroke-width="0.6" >67.6272</text><text x="445.3" y="1291.7" font-size="21.6" text-anchor="middle" fill="#1a1a1a" stroke="#1a1a1a" stroke-width="0.6" >13.52</text><text x="544.5" y="1291.7" font-size="21.6" text-anchor="middle" fill="#1a1a1a" stroke="#1a1a1a" stroke-width="0.6" >-0.08</text><text x="651.5" y="1291.7" font-size="21.6" text-anchor="middle" fill="#1a1a1a" stroke="#1a1a1a" stroke-width="0.6" >13.44</text><text x="754.5" y="1291.7" font-size="21.6" text-anchor="middle" fill="#1a1a1a" stroke="#1a1a1a" stroke-width="0.6" >40.00</text><text x="841" y="1291.7" font-size="21.6" text-anchor="middle" fill="#1a1a1a" stroke="#1a1a1a" stroke-width="0.6" >-26.56</text><text x="919.5" y="1291.7" font-size="21.6" text-anchor="middle" fill="#1a1a1a" stroke="#1a1a1a" stroke-width="0.6" >QP</text><text x="195" y="1328.8" font-size="21.6" text-anchor="start" fill="#1a1a1a" stroke="#1a1a1a" stroke-width="0.6" >4</text><text x="335" y="1328.8" font-size="21.6" text-anchor="middle" fill="#1a1a1a" stroke="#1a1a1a" stroke-width="0.6" >119.1574</text><text x="445.3" y="1328.8" font-size="21.6" text-anchor="middle" fill="#1a1a1a" stroke="#1a1a1a" stroke-width="0.6" >12.57</text><text x="544.5" y="1328.8" font-size="21.6" text-anchor="middle" fill="#1a1a1a" stroke="#1a1a1a" stroke-width="0.6" >2.59</text><text x="651.5" y="1328.8" font-size="21.6" text-anchor="middle" fill="#1a1a1a" stroke="#1a1a1a" stroke-width="0.6" >15.16</text><text x="754.5" y="1328.8" font-size="21.6" text-anchor="middle" fill="#1a1a1a" stroke="#1a1a1a" stroke-width="0.6" >40.00</text><text x="841" y="1328.8" font-size="21.6" text-anchor="middle" fill="#1a1a1a" stroke="#1a1a1a" stroke-width="0.6" >-24.84</text><text x="919.5" y="1328.8" font-size="21.6" text-anchor="middle" fill="#1a1a1a" stroke="#1a1a1a" stroke-width="0.6" >QP</text><text x="195" y="1365.9" font-size="21.6" text-anchor="start" fill="#1a1a1a" stroke="#1a1a1a" stroke-width="0.6" >5</text><text x="335" y="1365.9" font-size="21.6" text-anchor="middle" fill="#1a1a1a" stroke="#1a1a1a" stroke-width="0.6" >157.8052</text><text x="445.3" y="1365.9" font-size="21.6" text-anchor="middle" fill="#1a1a1a" stroke="#1a1a1a" stroke-width="0.6" >15.45</text><text x="544.5" y="1365.9" font-size="21.6" text-anchor="middle" fill="#1a1a1a" stroke="#1a1a1a" stroke-width="0.6" >0.73</text><text x="651.5" y="1365.9" font-size="21.6" text-anchor="middle" fill="#1a1a1a" stroke="#1a1a1a" stroke-width="0.6" >16.18</text><text x="754.5" y="1365.9" font-size="21.6" text-anchor="middle" fill="#1a1a1a" stroke="#1a1a1a" stroke-width="0.6" >40.00</text><text x="841" y="1365.9" font-size="21.6" text-anchor="middle" fill="#1a1a1a" stroke="#1a1a1a" stroke-width="0.6" >-23.82</text><text x="919.5" y="1365.9" font-size="21.6" text-anchor="middle" fill="#1a1a1a" stroke="#1a1a1a" stroke-width="0.6" >QP</text><text x="195" y="1405.4" font-size="21.6" text-anchor="start" fill="#1a1a1a" stroke="#1a1a1a" stroke-width="0.6" >6</text><text x="335" y="1405.4" font-size="21.6" text-anchor="middle" fill="#1a1a1a" stroke="#1a1a1a" stroke-width="0.6" >297.2495</text><text x="445.3" y="1405.4" font-size="21.6" text-anchor="middle" fill="#1a1a1a" stroke="#1a1a1a" stroke-width="0.6" >13.52</text><text x="544.5" y="1405.4" font-size="21.6" text-anchor="middle" fill="#1a1a1a" stroke="#1a1a1a" stroke-width="0.6" >4.33</text><text x="651.5" y="1405.4" font-size="21.6" text-anchor="middle" fill="#1a1a1a" stroke="#1a1a1a" stroke-width="0.6" >17.85</text><text x="754.5" y="1405.4" font-size="21.6" text-anchor="middle" fill="#1a1a1a" stroke="#1a1a1a" stroke-width="0.6" >47.00</text><text x="841" y="1405.4" font-size="21.6" text-anchor="middle" fill="#1a1a1a" stroke="#1a1a1a" stroke-width="0.6" >-29.15</text><text x="919.5" y="1405.4" font-size="21.6" text-anchor="middle" fill="#1a1a1a" stroke="#1a1a1a" stroke-width="0.6" >QP</text></g>
</svg>
<div class="serif hdr" id="h1" style="left:333.6px;top:211.4px;font-size:29.4px;">BST Testing (Shenzhen) Co.,Ltd.</div>
<div class="serif hdr" id="h2" style="left:946.6px;top:212.5px;font-size:27.8px;">Report No.: BSTXD190811849703ER</div>
<div class="rule" style="left:125px;top:262.2px;width:1421px;height:4.6px;"></div>
<div class="rule" style="left:175.3px;top:2128.6px;width:1415.7px;height:4.4px;"></div>
<div class="serif ftr" id="f1" style="left:124.3px;top:2149.6px;">Add: No.7, New Era Industrial Zone, Guantian, Bao'an District, Shenzhen, Guangdong, China</div>
<div class="serif ftr" id="f2" style="left:124.3px;top:2182.5px;">Certificate Search: http://www.bst-lab.com,    Tel:400-882-9628, 8009990305, E-mail:christina@bst-lab.com</div>
<div class="serif" id="f3" style="left:1411px;top:2214.9px;font-size:25.3px;">Page 48 of 52</div>
</body></html>
